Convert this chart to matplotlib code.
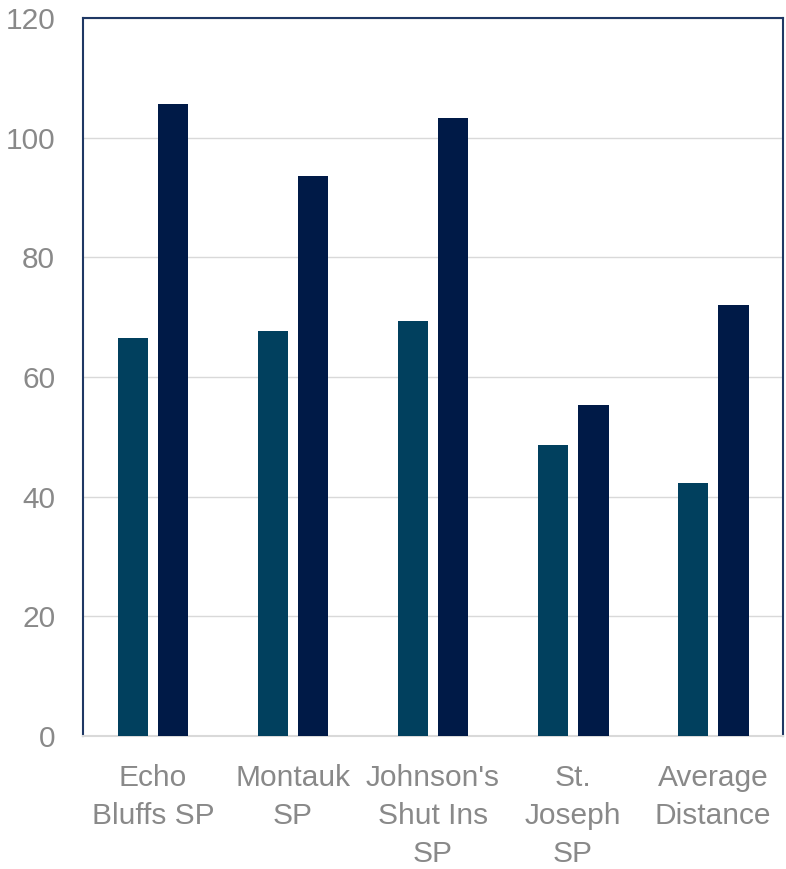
import numpy as np
import matplotlib.pyplot as plt

plt.rcParams['font.family'] = ['Liberation Sans', 'DejaVu Sans']

# categories and values
parks = ["Echo\nBluffs SP", "Montauk\nSP", "Johnson's\nShut Ins\nSP", "St.\nJoseph\nSP", "Average\nDistance"]
serie1 = [66.5, 67.7, 69.3, 48.7, 42.3]
serie2 = [105.6, 93.6, 103.3, 55.3, 72.0]
yticks = [0, 20, 40, 60, 80, 100, 120]

fig = plt.figure(figsize=(7.86, 8.69), dpi=100)
ax = fig.add_axes([0.1056, 0.1530, 0.8906, 0.8263])

x = np.arange(len(parks))
w = 0.221
ax.bar(x - 0.143, serie1, width=w, color='#01405E', zorder=3)
ax.bar(x + 0.143, serie2, width=w, color='#001A47', zorder=3)

ax.set_xlim(-0.5, len(parks) - 0.5)
ax.set_ylim(0, 120)
ax.set_yticks(yticks)
ax.set_xticks(x)
ax.set_xticklabels(parks)
ax.grid(axis='y', color='#d9d9d9', linewidth=1, zorder=0)

for s in ['left', 'top', 'right']:
    ax.spines[s].set_color('#1F3864')
    ax.spines[s].set_linewidth(1.5)
ax.spines['bottom'].set_color('#d9d9d9')
ax.spines['bottom'].set_linewidth(1.5)

ax.tick_params(axis='both', length=0, labelsize=21.5, labelcolor='#898989')
ax.tick_params(axis='y', pad=20)
ax.tick_params(axis='x', pad=20)
for lab in ax.get_xticklabels():
    lab.set_linespacing(1.45)

fig.savefig('out.png', dpi=100)
